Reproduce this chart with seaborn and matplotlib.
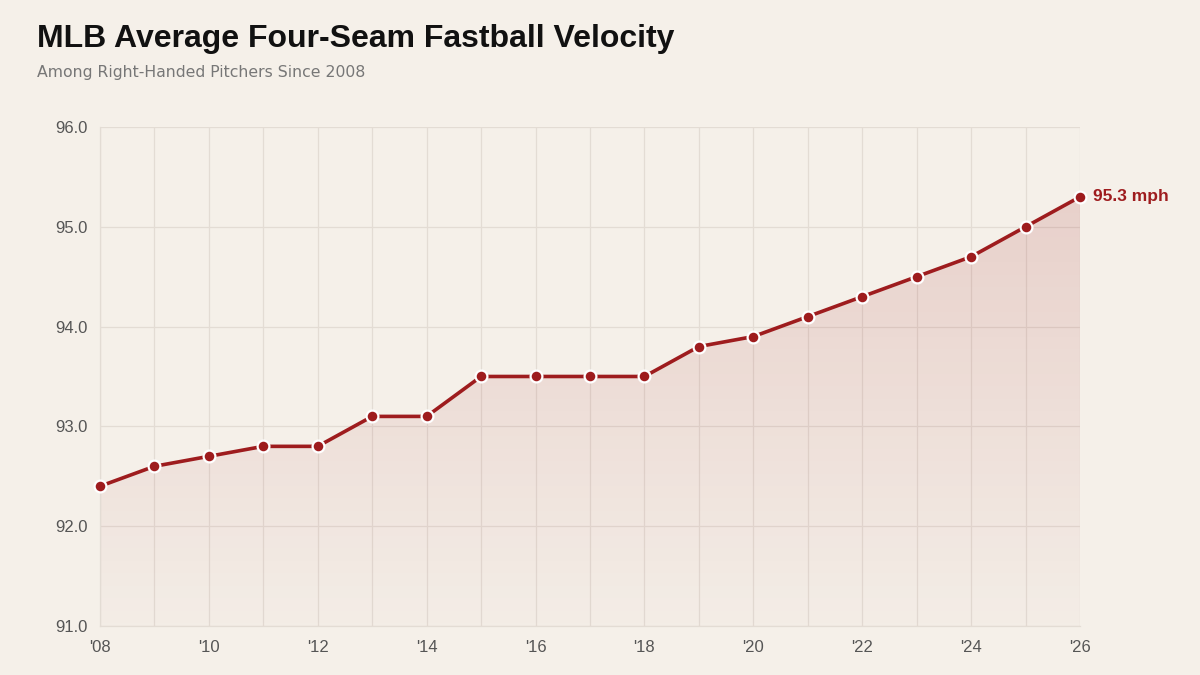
import matplotlib
matplotlib.use("Agg")
import matplotlib.pyplot as plt
import seaborn as sns
import numpy as np
import pandas as pd

# Data
years = [2008, 2009, 2010, 2011, 2012, 2013, 2014, 2015, 2016, 2017,
         2018, 2019, 2020, 2021, 2022, 2023, 2024, 2025, 2026]
velocity = [92.4, 92.6, 92.7, 92.8, 92.8, 93.1, 93.1, 93.5, 93.5, 93.5,
            93.5, 93.8, 93.9, 94.1, 94.3, 94.5, 94.7, 95.0, 95.3]
x_ticks = [2008, 2010, 2012, 2014, 2016, 2018, 2020, 2022, 2024, 2026]
x_tick_labels = ["'08", "'10", "'12", "'14", "'16", "'18", "'20", "'22", "'24", "'26"]
y_ticks = [91.0, 92.0, 93.0, 94.0, 95.0, 96.0]

df = pd.DataFrame({"year": years, "mph": velocity})

bg = "#f5f0e9"
red = "#9e1c1e"
grid_col = "#e3dcd4"

sns.set_theme(style="white")
plt.rcParams["font.family"] = ["Liberation Sans", "DejaVu Sans"]

fig = plt.figure(figsize=(12, 6.75), dpi=100, facecolor=bg)
ax = fig.add_axes([0.0833, 0.0726, 0.8167, 0.7393])
ax.set_facecolor(bg)

# gradient fill under the line
poly = ax.fill_between(df["year"], df["mph"], 91.0, color="none", lw=0)
grad = np.linspace(0, 1, 256).reshape(-1, 1)
cmap = matplotlib.colors.LinearSegmentedColormap.from_list(
    "fade", [(0.62, 0.11, 0.12, 0.015), (0.62, 0.11, 0.12, 0.15)])
img = ax.imshow(grad, cmap=cmap, aspect="auto", origin="lower",
                extent=[years[0], years[-1], 91.0, max(velocity)], zorder=1)
img.set_clip_path(poly.get_paths()[0], transform=ax.transData)

sns.lineplot(data=df, x="year", y="mph", ax=ax, color=red, linewidth=2.6,
             marker="o", markersize=8.5, markeredgecolor="white",
             markeredgewidth=1.6, zorder=3, clip_on=False)

ax.annotate(f"{velocity[-1]:.1f} mph", xy=(years[-1], velocity[-1]),
            xytext=(9, 0), textcoords="offset points", ha="left", va="center",
            fontsize=12.5, fontweight="bold", color=red, annotation_clip=False)

ax.set_xlim(years[0], years[-1])
ax.set_ylim(91.0, 96.0)
ax.set_xticks(years, minor=True)
ax.set_xticks(x_ticks)
ax.set_xticklabels(x_tick_labels)
ax.set_yticks(y_ticks)
ax.set_yticklabels([f"{v:.1f}" for v in y_ticks])
ax.grid(True, which="both", axis="x", color=grid_col, linewidth=0.9, zorder=0)
ax.grid(True, which="major", axis="y", color=grid_col, linewidth=0.9, zorder=0)
ax.set_axisbelow(True)
ax.tick_params(axis="both", which="both", length=0, labelsize=12,
               colors="#555555")
ax.tick_params(axis="y", pad=9)
ax.tick_params(axis="x", pad=10)
ax.set_xlabel("")
ax.set_ylabel("")
for side in ["top", "right"]:
    ax.spines[side].set_visible(False)
for side in ["left", "bottom"]:
    ax.spines[side].set_color(grid_col)
    ax.spines[side].set_linewidth(0.9)

fig.text(0.031, 0.931, "MLB Average Four-Seam Fastball Velocity",
         fontsize=23, fontweight="bold", color="#111111", ha="left", va="baseline")
fig.text(0.031, 0.886, "Among Right-Handed Pitchers Since 2008",
         fontsize=11.3, color="#777777", ha="left", va="baseline",
         family=["DejaVu Sans"])

fig.savefig("out.png", dpi=100, facecolor=bg)
